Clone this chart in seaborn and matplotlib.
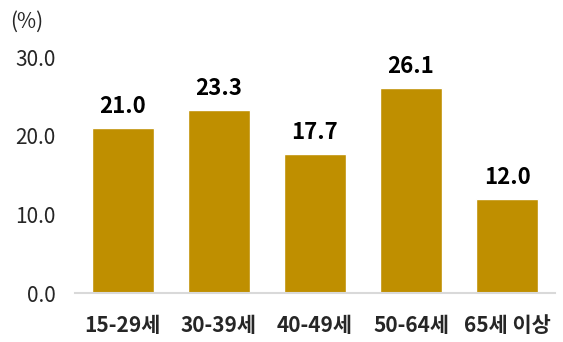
import pandas as pd
import matplotlib.pyplot as plt
import seaborn as sns

# Age groups and share (%)
groups = ['15-29세', '30-39세', '40-49세', '50-64세', '65세 이상']
values = [21.0, 23.3, 17.7, 26.1, 12.0]
yticks = [0, 10, 20, 30]

df = pd.DataFrame({'group': groups, 'value': values})

sns.set_style('white')
plt.rcParams['font.family'] = ['Noto Sans CJK KR', 'DejaVu Sans']

fig = plt.figure(figsize=(5.63, 3.42), dpi=100)
ax = fig.add_axes([0.133, 0.143, 0.853, 0.690])

sns.barplot(data=df, x='group', y='value', color='#BF8F00', saturation=1,
            width=0.65, ax=ax)

for i, v in enumerate(values):
    ax.text(i, v + 1.2, f'{v:.1f}', ha='center', va='bottom',
            fontsize=16, fontweight='bold', color='black')

ax.set_ylim(0, 30)
ax.set_xlim(-0.5, len(groups) - 0.5)
ax.set_yticks(yticks)
ax.set_yticklabels([f'{t:.1f}' for t in yticks], fontsize=15)
ax.tick_params(axis='y', length=0, pad=14)
ax.tick_params(axis='x', length=0, pad=16, labelsize=15)
for lbl in ax.get_xticklabels():
    lbl.set_fontweight('bold')
ax.set_xlabel('')
ax.set_ylabel('')

for side in ['top', 'right', 'left']:
    ax.spines[side].set_visible(False)
ax.spines['bottom'].set_color('#D9D9D9')
ax.spines['bottom'].set_linewidth(1.5)

fig.text(0.018, 0.935, '(%)', fontsize=15, ha='left', va='center')

fig.savefig('out.png', dpi=100)
